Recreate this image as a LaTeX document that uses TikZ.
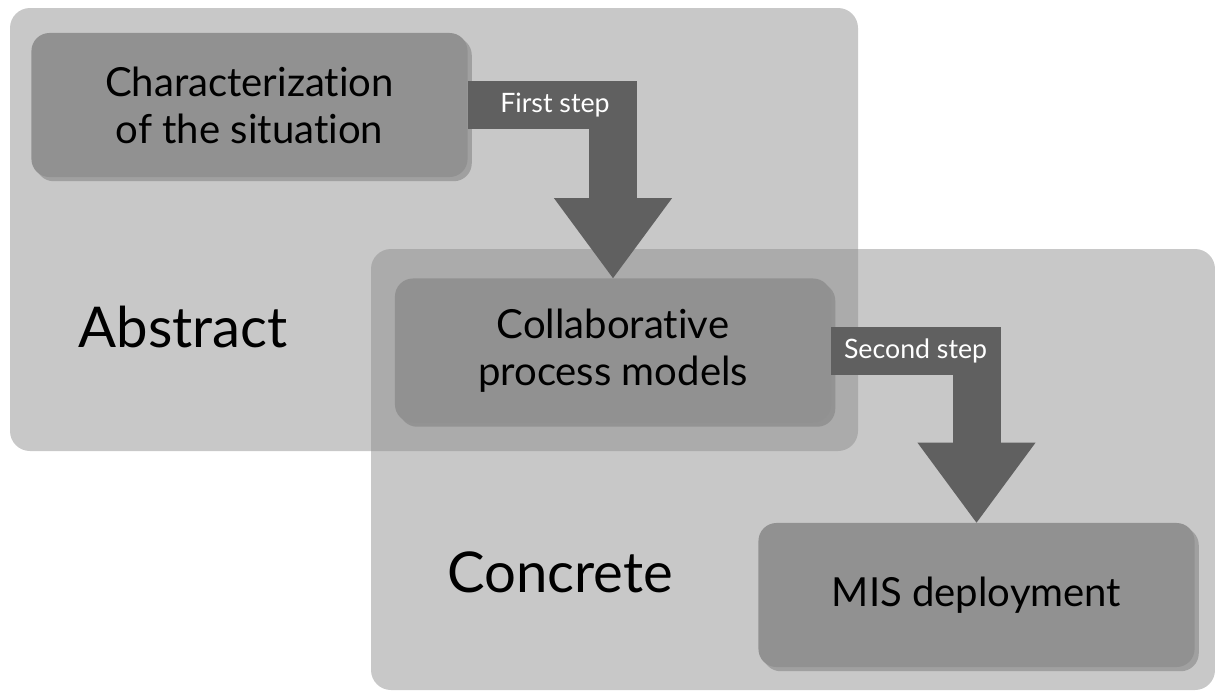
\documentclass[tikz,border=0pt]{standalone}
\usepackage{fontspec}
\setmainfont[Ligatures={NoCommon,NoRare}]{Lato}
\usetikzlibrary{arrows.meta}
\usetikzlibrary{shadows}

\definecolor{panelgray}{gray}{0.545}
\definecolor{boxgray}{gray}{0.569}
\definecolor{arrowgray}{gray}{0.376}

\begin{document}
\begin{tikzpicture}[x=0.025cm,y=-0.025cm,
	level/.style={fill=panelgray,fill opacity=0.47,rounded corners=0.5cm},
	phase/.style={rectangle,rounded corners=0.45cm,fill=boxgray,
		minimum width=10.9cm,minimum height=3.6cm,align=center,
		font=\fontsize{28.5}{33.5}\selectfont,
		drop shadow={shadow xshift=3pt,shadow yshift=-3pt,opacity=0.55}},
	stepline/.style={draw=arrowgray,line width=1.2cm,
		-{Triangle[width=2.95cm,length=2cm,line width=0pt]}},
	steplabel/.style={text=white,inner sep=0pt,font=\fontsize{19}{22}\selectfont}]
\fill[white] (0,0) rectangle (1215,691);
\useasboundingbox (0,0) rectangle (1215,691);
% the two levels
\fill[level] (10,8) rectangle (858,451);
\fill[level] (371,249) rectangle (1215,690);
\node[font=\fontsize{40}{48}\selectfont] (abstract) at (183,327) {Abstract};
\node[font=\fontsize{40}{48}\selectfont] (concrete) at (560,572) {Concrete};
% phases
\node[phase] (situation) at (249.5,105) {Characterization\\of the situation};
\node[phase] (models) at (613,350.5) {Collaborative\\process models};
\node[phase] (mis) at (976.5,595) {MIS deployment};
\draw[stepline] (situation.east) -| node[steplabel,pos=0.3] {First step} (models.north);
\draw[stepline] (models.east) -| node[steplabel,pos=0.29] {Second step} (mis.north);
\end{tikzpicture}
\end{document}
